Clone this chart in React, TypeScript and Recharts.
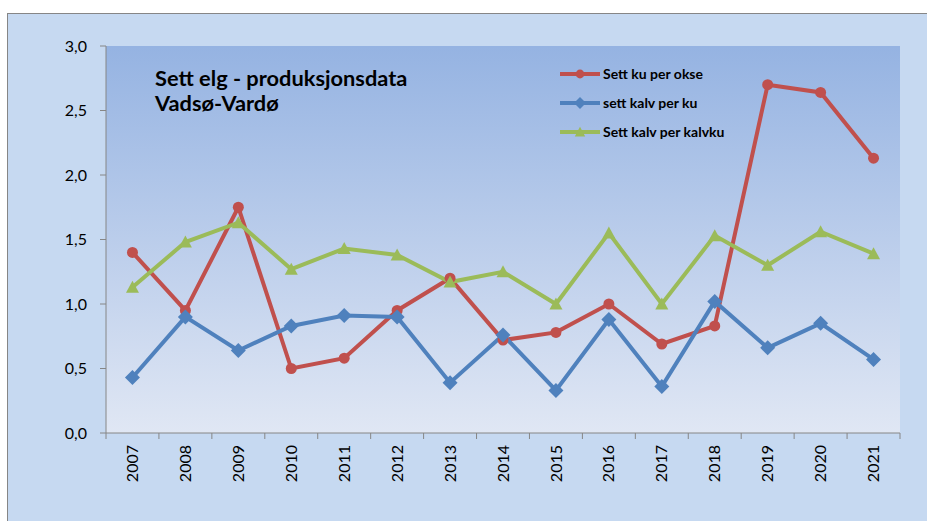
import { LineChart, Line, XAxis, YAxis, CartesianGrid } from "recharts";

const years = ["2007", "2008", "2009", "2010", "2011", "2012", "2013", "2014", "2015", "2016", "2017", "2018", "2019", "2020", "2021"];
const kuPerOkse = [1.4, 0.95, 1.75, 0.5, 0.58, 0.95, 1.2, 0.72, 0.78, 1.0, 0.69, 0.83, 2.7, 2.64, 2.13];
const kalvPerKu = [0.43, 0.9, 0.64, 0.83, 0.91, 0.9, 0.39, 0.76, 0.33, 0.88, 0.36, 1.02, 0.66, 0.85, 0.57];
const kalvPerKalvku = [1.13, 1.48, 1.63, 1.27, 1.43, 1.38, 1.17, 1.25, 1.0, 1.55, 1.0, 1.53, 1.3, 1.56, 1.39];
const yTicks = [0, 0.5, 1, 1.5, 2, 2.5, 3];

const data = years.map((year, i) => ({
  year,
  okse: kuPerOkse[i],
  kalv: kalvPerKu[i],
  kalvku: kalvPerKalvku[i],
}));

const RED = "#c0504d";
const BLUE = "#4f81bd";
const GREEN = "#9bbb59";
const AXIS = "#868686";
const FONT = "Lato, 'Open Sans', sans-serif";
const HALF_BAND = 794 / 15 / 2;

const series = [
  { key: "okse", name: "Sett ku per okse", color: RED, shape: "circle" },
  { key: "kalv", name: "sett kalv per ku", color: BLUE, shape: "diamond" },
  { key: "kalvku", name: "Sett kalv per kalvku", color: GREEN, shape: "triangle" },
];

function Marker({ shape, cx, cy, color, s = 1 }: { shape: string; cx: number; cy: number; color: string; s?: number }) {
  if (shape === "circle") return <circle cx={cx} cy={cy} r={5.5 * s} fill={color} />;
  if (shape === "diamond") {
    const d = 7.5 * s;
    return <polygon points={`${cx},${cy - d} ${cx + d},${cy} ${cx},${cy + d} ${cx - d},${cy}`} fill={color} />;
  }
  const h = 6.5 * s;
  return <polygon points={`${cx},${cy - h} ${cx + h},${cy + h * 0.85} ${cx - h},${cy + h * 0.85}`} fill={color} />;
}

const dotFor = (shape: string, color: string) => (p: any) => (
  <Marker key={`${shape}-${p.index}`} shape={shape} cx={p.cx} cy={p.cy} color={color} />
);

function YearTick(props: any) {
  const { x, y, payload, index, visibleTicksCount } = props;
  const last = index === visibleTicksCount - 1;
  return (
    <g>
      <line x1={x - HALF_BAND} y1={y} x2={x - HALF_BAND} y2={y + 6} stroke={AXIS} />
      {last && <line x1={x + HALF_BAND} y1={y} x2={x + HALF_BAND} y2={y + 6} stroke={AXIS} />}
      <g transform={`translate(${x},${y + 12}) rotate(-90)`}>
        <text textAnchor="end" dy="0.35em" fontSize={16} fontFamily={FONT} fill="#000">
          {payload.value}
        </text>
      </g>
    </g>
  );
}

function LegendBox() {
  return (
    <svg width={200} height={90} style={{ position: "absolute", left: 556, top: 62 }}>
      {series.map((it, i) => {
        const y = 12 + i * 29;
        return (
          <g key={it.key}>
            <line x1={4} y1={y} x2={44} y2={y} stroke={it.color} strokeWidth={4} />
            <Marker shape={it.shape} cx={24} cy={y} color={it.color} s={0.8} />
            <text x={47} y={y} dy="0.35em" fontSize={14} fontWeight="bold" fontFamily={FONT} fill="#000">
              {it.name}
            </text>
          </g>
        );
      })}
    </svg>
  );
}

export default function App() {
  return (
    <div style={{ position: "fixed", left: 0, top: 0, width: 927, height: 521, overflow: "hidden", background: "#fff" }}>
      <div
        style={{
          position: "absolute",
          left: 7,
          top: 13,
          right: 0,
          bottom: 0,
          background: "#c6d9f1",
          borderTop: `1px solid ${AXIS}`,
          borderLeft: `1px solid ${AXIS}`,
        }}
      />
      <div style={{ position: "absolute", left: 0, top: 0 }}>
        <LineChart width={927} height={521} data={data} margin={{ top: 46, right: 27, left: 46, bottom: 0 }}>
          <defs>
            <linearGradient id="plotBg" x1="0" y1="0" x2="0" y2="1">
              <stop offset="0%" stopColor="#95b3e2" />
              <stop offset="100%" stopColor="#e0e7f4" />
            </linearGradient>
          </defs>
          <CartesianGrid fill="url(#plotBg)" stroke="none" fillOpacity={1} />
          <XAxis
            dataKey="year"
            height={88}
            interval={0}
            tickLine={false}
            tickSize={0}
            tickMargin={0}
            axisLine={{ stroke: AXIS }}
            padding={{ left: HALF_BAND, right: HALF_BAND }}
            tick={<YearTick />}
          />
          <YAxis
            width={60}
            domain={[0, 3]}
            ticks={yTicks}
            interval={0}
            tickSize={6}
            tickMargin={13}
            tickLine={{ stroke: AXIS }}
            axisLine={{ stroke: AXIS }}
            tick={{ fill: "#000", fontSize: 16, fontFamily: FONT }}
            tickFormatter={(v: number) => v.toFixed(1).replace(".", ",")}
          />
          {series.map((s) => (
            <Line
              key={s.key}
              name={s.name}
              dataKey={s.key}
              stroke={s.color}
              strokeWidth={4}
              dot={dotFor(s.shape, s.color)}
              activeDot={false}
              isAnimationActive={false}
            />
          ))}
        </LineChart>
      </div>
      <LegendBox />
      <div
        style={{
          position: "absolute",
          left: 155,
          top: 65,
          fontFamily: FONT,
          fontWeight: "bold",
          fontSize: 21.8,
          lineHeight: "25px",
          color: "#000",
        }}
      >
        Sett elg - produksjonsdata
        <br />
        Vadsø-Vardø
      </div>
    </div>
  );
}
